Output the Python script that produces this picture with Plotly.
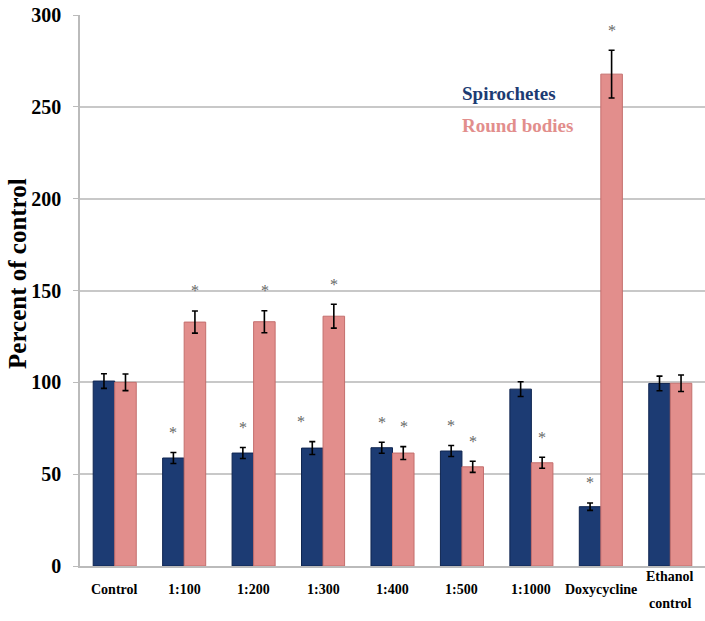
import plotly.graph_objects as go

categories = ["Control", "1:100", "1:200", "1:300", "1:400", "1:500", "1:1000",
              "Doxycycline", "Ethanol control"]
spirochetes = [100.7, 58.8, 61.5, 64.2, 64.4, 62.6, 96.3, 32.3, 99.4]
spirochetes_err = [4, 3, 3, 3.5, 3, 3, 4, 2, 4]
round_bodies = [100.0, 132.8, 133.0, 136.0, 61.5, 54.0, 56.2, 267.8, 99.5]
round_bodies_err = [4.5, 6, 6, 6.5, 3.5, 3, 3, 13, 4.5]
# significance markers (True = marked with an asterisk)
spiro_sig = [False, True, True, True, True, True, False, True, False]
round_sig = [False, True, True, True, True, True, True, True, False]

BLUE = "#1C3B73"
PINK = "#E28E8C"
SERIF = "Liberation Serif"
STAR = dict(family=SERIF, size=16, color="#666666")

fig = go.Figure()
fig.add_trace(go.Bar(
    x=categories, y=spirochetes, name="Spirochetes",
    marker=dict(color=BLUE, line=dict(color="#0F2550", width=1)),
    error_y=dict(type="data", array=spirochetes_err, color="black",
                 thickness=1.6, width=3),
))
fig.add_trace(go.Bar(
    x=categories, y=round_bodies, name="Round bodies",
    marker=dict(color=PINK, line=dict(color="#C46F6D", width=1)),
    error_y=dict(type="data", array=round_bodies_err, color="black",
                 thickness=1.6, width=3),
))

annotations = []
for i, cat in enumerate(categories):
    if spiro_sig[i]:
        annotations.append(dict(
            x=cat, y=spirochetes[i] + spirochetes_err[i] + 11, xref="x", yref="y",
            text="*", showarrow=False, xshift=-11 if i != 3 else -22,
            font=STAR, yanchor="middle"))
    if round_sig[i]:
        annotations.append(dict(
            x=cat, y=round_bodies[i] + round_bodies_err[i] + 11, xref="x", yref="y",
            text="*", showarrow=False, xshift=11,
            font=STAR, yanchor="middle"))

# category labels under the axis, single-line labels centred on the two-line block
LABEL = dict(family=SERIF, size=14, color="black")
for cat in categories:
    words = cat.split(" ")
    if len(words) == 1:
        annotations.append(dict(x=cat, xref="x", y=0, yref="y", yshift=-23,
                                text="<b>" + cat + "</b>", showarrow=False,
                                yanchor="middle", font=LABEL))
    else:
        for k, w in enumerate(words):
            annotations.append(dict(x=cat, xref="x", y=0, yref="y",
                                    yshift=-10 - 27 * k,
                                    text="<b>" + w + "</b>", showarrow=False,
                                    yanchor="middle", font=LABEL))

annotations += [
    dict(x=0.608, y=0.858, xref="paper", yref="paper", text="<b>Spirochetes</b>",
         showarrow=False, xanchor="left", yanchor="middle",
         font=dict(family=SERIF, size=19, color=BLUE)),
    dict(x=0.608, y=0.800, xref="paper", yref="paper", text="<b>Round bodies</b>",
         showarrow=False, xanchor="left", yanchor="middle",
         font=dict(family=SERIF, size=19, color=PINK)),
    dict(x=0, xref="paper", xshift=-62, y=0.53, yref="paper",
         text="<b>Percent of control</b>", textangle=-90, showarrow=False,
         xanchor="center", yanchor="middle",
         font=dict(family=SERIF, size=25, color="black")),
]

fig.update_layout(
    width=705, height=621,
    margin=dict(l=80, r=0, t=15, b=55),
    paper_bgcolor="white", plot_bgcolor="white",
    barmode="group", bargap=0.38, bargroupgap=0,
    showlegend=False,
    annotations=annotations,
    font=dict(family=SERIF, color="black"),
    xaxis=dict(
        showline=True, linecolor="#BBBBBB", linewidth=1.5,
        showticklabels=False, ticks="",
    ),
    yaxis=dict(
        range=[0, 300], dtick=50,
        showgrid=True, gridcolor="#C8C8C8", gridwidth=1.5,
        showline=True, linecolor="#BBBBBB", linewidth=1.5,
        ticks="outside", ticklen=5, tickcolor="#BBBBBB",
        ticklabelstandoff=8,
        tickfont=dict(family=SERIF, size=20, color="black"),
        tickprefix="<b>", ticksuffix="</b>",
        zeroline=False,
    ),
)

fig.write_html("out.html")
